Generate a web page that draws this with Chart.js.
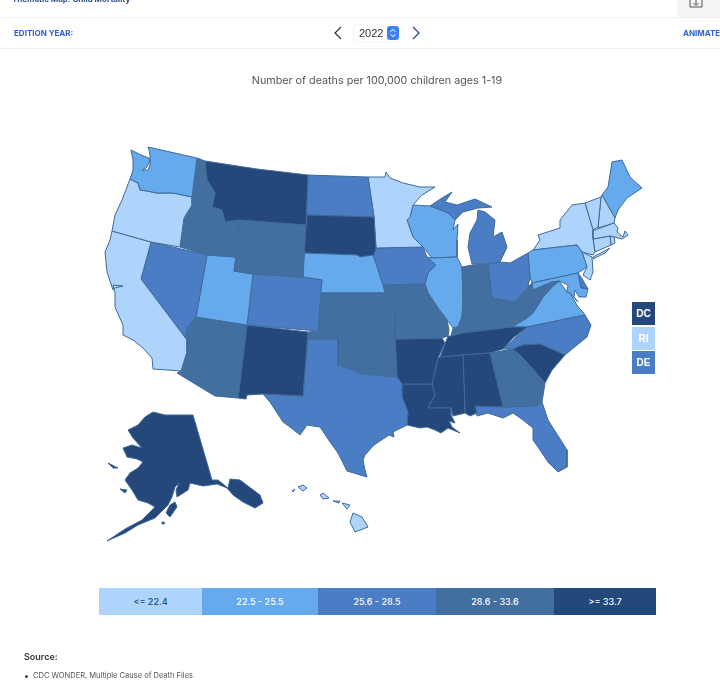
<!DOCTYPE html>
<html><head><meta charset="utf-8">
<style>
html,body{margin:0;padding:0;background:#fff;width:720px;height:682px;overflow:hidden;font-family:Inter,"Noto Sans",sans-serif;color:#444}
#wrap{position:absolute;left:0;top:0;width:720px;height:682px;overflow:hidden}
canvas{position:absolute;left:0;top:0}
.abs{position:absolute;white-space:nowrap}
.rule{position:absolute;left:0;width:720px;height:1px;background:#f0f0f0}
.blue{color:#2f62d1;font-weight:700;font-size:8px}
#legend{position:absolute;left:99px;top:588px;width:557px;height:27px;display:flex}
#legend div{height:27px;line-height:27px;text-align:center;font-size:9px;font-weight:500;color:#fff}
.sq{position:absolute;left:632px;width:23px;height:23px;text-align:center;font:700 10px/23px "Liberation Sans",Arial,sans-serif;color:#fff}
</style></head><body>
<div id="wrap">
<canvas id="map" width="720" height="682"></canvas>
<div class="abs" style="left:12px;top:-6px;font-size:8px;font-weight:700;color:#2b4f86">Thematic Map: Child Mortality</div>
<div class="abs" style="left:677px;top:0;width:43px;height:17px;background:#f5f5f5"></div>
<svg class="abs" style="left:689px;top:0" width="14" height="10"><path d="M1 0V7H13V0M7 0V5M4.5 3L7 5.5L9.5 3" fill="none" stroke="#555" stroke-width="1"/></svg>
<div class="rule" style="top:17px"></div><div class="rule" style="top:48px"></div>
<div class="abs blue" style="left:14px;top:28px">EDITION YEAR:</div>
<div class="abs blue" style="left:683px;top:28px">ANIMATE</div>
<svg class="abs" style="left:333px;top:26px" width="10" height="14"><path d="M8 1L2 7L8 13" fill="none" stroke="#333" stroke-width="1.2"/></svg>
<svg class="abs" style="left:411px;top:26px" width="10" height="14"><path d="M2 1L8 7L2 13" fill="none" stroke="#23468a" stroke-width="1.2"/></svg>
<div class="abs" style="left:354px;top:25px;width:49px;height:16px;border-radius:3px;box-shadow:0 0 2px #ddd"></div>
<div class="abs" style="left:359px;top:27px;font-size:11px;color:#333;font-family:'Liberation Sans',Arial,sans-serif">2022</div>
<div class="abs" style="left:387px;top:26px;width:12px;height:14px;border-radius:3px;background:#3b82ee"></div>
<svg class="abs" style="left:387px;top:26px" width="12" height="14"><path d="M3.5 5.5L6 3.5L8.5 5.5M3.5 8.5L6 10.5L8.5 8.5" fill="none" stroke="#fff" stroke-width="1"/></svg>
<div id="title" class="abs" style="left:227px;top:74px;width:300px;text-align:center;font-size:10.75px;font-weight:400;color:#555">Number of deaths per 100,000 children ages 1-19</div>
<div id="legend"></div>
<div id="squares"></div>
<div class="abs" style="left:24px;top:651px;font-size:9px;font-weight:600;color:#333">Source:</div>
<div class="abs" style="left:25px;top:675px;width:3px;height:3px;border-radius:2px;background:#444"></div>
<div class="abs" style="left:33px;top:671px;font-size:7.5px;color:#555">CDC WONDER, Multiple Cause of Death Files</div>
</div>
<script src="https://cdn.jsdelivr.net/npm/chart.js@4"></script>
<script>
// Class labels and the states read into each class
const binLabels=['<= 22.4','22.5 - 25.5','25.6 - 28.5','28.6 - 33.6','>= 33.7'];
const binColors=['#AED4FB','#65AAEC','#4A7DC3','#426F9F','#24487A'];
const bin0=['CA','OR','MN','NY','VT','NH','MA','CT','RI','NJ','HI'];
const bin1=['WA','UT','NE','WI','IL','PA','ME','VA','MD'];
const bin2=['NV','CO','ND','IA','MI','OH','TX','FL','NC','DE'];
const bin3=['ID','WY','AZ','KS','OK','MO','IN','KY','WV','GA'];
const bin4=['MT','SD','NM','AR','LA','MS','AL','TN','SC','AK','DC'];
const smallStates=['DC','RI','DE'];

// State outlines in map units
const WA=[[148,147],[197,158],[192,197],[173,193],[157,193],[147,191],[140,190],[138,183],[130,179],[133,170],[133,160],[131,150],[141,155],[149,158],[150,162],[146,168],[142,170],[148,170],[150,165],[150,155],[149,150]];
const OR=[[130,179],[138,183],[140,190],[147,191],[157,193],[173,193],[192,197],[192,205],[184,218],[180,247],[151,242],[112,231],[115,215],[122,200]];
const CA=[[112,231],[151,242],[141,279],[187,340],[187,352],[181,371],[153,369],[152,358],[143,348],[133,340],[123,335],[123,325],[115,307],[115,293],[113,285],[123,286],[115,288],[113,290],[107,272],[105,252],[110,240]];
const NV=[[151,242],[207,255],[196,317],[187,328],[185,340],[141,279]];
const ID=[[197,158],[205,161],[207,180],[215,193],[212,207],[222,210],[225,222],[240,220],[236,257],[207,255],[180,247],[184,218],[192,205],[192,197]];
const MT=[[205,161],[257,169],[308,175],[306,225],[240,220],[225,222],[222,210],[212,207],[215,193],[207,180]];
const WY=[[240,220],[306,225],[303,277],[253,274],[234,271],[236,257]];
const UT=[[207,255],[236,257],[234,271],[253,274],[247,325],[196,317]];
const CO=[[253,274],[303,277],[322,280],[318,331],[247,325]];
const AZ=[[196,317],[247,325],[238,398],[215,396],[177,373],[181,371],[187,352],[185,340],[187,328]];
const NM=[[247,325],[308,332],[303,396],[263,394],[247,395],[246,399],[238,398]];
const TX=[[308,339],[338,339],[338,365],[353,370],[360,374],[397,377],[402,384],[402,397],[408,412],[407,425],[393,432],[394,437],[389,435],[377,443],[373,446],[365,455],[363,460],[365,470],[367,477],[347,471],[338,453],[330,442],[320,427],[307,425],[300,435],[290,427],[283,422],[270,402],[263,394],[303,396]];
const OK=[[308,332],[318,331],[395,334],[395,339],[397,377],[360,374],[353,370],[338,365],[338,339],[308,339]];
const KS=[[320,293],[385,293],[395,313],[395,334],[318,331]];
const NE=[[303,253],[357,255],[360,257],[373,255],[383,285],[385,293],[320,293],[322,280],[303,277]];
const SD=[[307,215],[374,217],[376,248],[373,257],[360,257],[357,255],[303,253]];
const ND=[[308,175],[368,177],[374,217],[307,215]];
const MN=[[368,177],[385,177],[386,172],[390,178],[403,183],[420,187],[435,187],[422,195],[413,205],[410,217],[407,220],[413,237],[423,247],[376,248],[374,217]];
const IA=[[376,248],[423,247],[427,257],[436,265],[428,273],[425,284],[383,285],[373,257]];
const MO=[[383,285],[425,284],[428,293],[438,308],[447,320],[449,330],[448,336],[442,338],[395,339],[395,313],[385,293]];
const AR=[[395,339],[442,338],[445,343],[438,358],[432,384],[402,384],[397,377]];
const LA=[[402,384],[432,384],[435,395],[428,408],[451,408],[451,415],[455,423],[449,421],[452,427],[460,433],[448,428],[441,433],[435,430],[427,427],[420,428],[407,425],[408,412],[402,397]];
const MS=[[440,357],[463,355],[465,413],[453,416],[451,408],[428,408],[435,395],[432,384],[438,358]];
const AL=[[463,355],[490,353],[503,407],[475,406],[477,413],[470,416],[465,413]];
const GA=[[490,353],[513,349],[523,358],[545,383],[542,402],[536,406],[503,407]];
const FL=[[475,406],[503,407],[536,406],[542,402],[548,420],[567,450],[567,467],[558,472],[548,462],[540,450],[533,440],[533,428],[523,420],[513,413],[503,418],[488,413],[477,416]];
const SC=[[513,349],[523,345],[540,344],[565,355],[552,370],[545,383],[523,358]];
const NC=[[503,349],[527,327],[585,315],[591,325],[587,337],[577,345],[565,355],[540,344],[523,345],[513,349]];
const TN=[[440,357],[448,336],[451,336],[463,333],[512,327],[527,327],[513,338],[503,349],[490,353],[463,355]];
const KY=[[451,336],[453,328],[458,327],[462,317],[478,313],[490,302],[492,298],[503,300],[515,302],[518,313],[527,318],[512,327],[463,333]];
const IN=[[462,267],[472,265],[488,264],[492,298],[490,302],[478,313],[462,317],[463,300]];
const IL=[[432,258],[457,257],[462,267],[463,300],[462,317],[458,327],[453,328],[447,320],[438,308],[428,293],[425,284],[428,273],[436,265],[427,257]];
const WI=[[413,205],[430,206],[448,213],[455,220],[453,230],[458,224],[457,240],[457,257],[432,258],[423,247],[413,237],[407,220],[410,217]];
const MI_upper=[[430,206],[442,198],[452,192],[445,202],[457,205],[475,199],[492,207],[478,208],[463,212],[455,220],[448,213]];
const MI_lower=[[478,210],[477,220],[470,233],[468,247],[472,264],[488,264],[500,262],[507,247],[502,232],[493,237],[495,220],[485,212]];
const OH=[[488,264],[500,262],[510,263],[528,253],[530,277],[528,287],[523,293],[515,302],[503,300],[492,298]];
const WV=[[515,302],[523,293],[528,287],[532,283],[533,290],[545,285],[552,282],[559,281],[553,286],[543,297],[533,313],[527,318],[518,313]];
const VA=[[512,327],[527,318],[533,313],[543,297],[553,286],[559,281],[567,292],[570,293],[578,307],[583,312],[585,315],[527,327]];
const MD=[[532,283],[578,273],[581,288],[588,289],[586,297],[579,297],[575,290],[574,297],[578,302],[570,293],[567,292],[568,285],[559,281],[552,282],[545,285],[533,290]];
const DE=[[578,273],[581,277],[588,289],[581,288]];
const PA=[[528,253],[533,250],[577,245],[582,252],[587,267],[578,273],[532,283],[530,277]];
const NJ=[[582,252],[592,257],[593,272],[590,280],[583,275],[587,267]];
const NY=[[533,250],[540,240],[538,235],[560,228],[560,220],[572,205],[585,203],[593,230],[593,239],[595,252],[593,255],[582,252],[577,245]];
const NY_li=[[593,257],[610,248],[605,253],[593,259]];
const VT=[[585,203],[601,197],[598,227],[593,230]];
const NH=[[602,195],[615,218],[614,223],[598,228],[601,197]];
const ME=[[602,195],[608,187],[612,162],[622,160],[630,177],[642,188],[627,198],[618,210],[615,218]];
const MA=[[592,231],[614,223],[618,228],[617,232],[623,237],[625,231],[628,235],[622,239],[615,237],[610,236],[593,239]];
const CT=[[593,239],[610,236],[611,245],[595,252]];
const RI=[[610,236],[614,236],[615,243],[611,245]];
const AK=[[153,412],[165,415],[193,415],[212,480],[218,480],[228,488],[230,479],[240,480],[260,495],[263,503],[255,508],[243,502],[233,495],[227,488],[217,484],[203,486],[190,483],[188,490],[177,497],[176,490],[179,483],[175,487],[172,497],[168,505],[155,518],[138,525],[125,533],[107,541],[125,529],[142,520],[155,507],[148,503],[138,500],[132,490],[125,480],[130,473],[138,468],[143,462],[137,459],[127,457],[123,448],[132,445],[142,448],[133,438],[128,430],[138,425],[145,417]];
const AK_kodiak=[[175,502],[177,507],[170,517],[166,513],[170,505]];
const AK_stlawrence=[[108,463],[118,468],[113,468]];
const AK_nunivak=[[120,489],[127,490],[125,493]];
const AK_isle=[[162,522],[164,522],[164,524],[162,524]];
const HI_big=[[353,513],[362,517],[368,527],[355,532],[350,522]];
const HI_maui=[[342,503],[350,505],[347,509]];
const HI_molokai=[[333,501],[340,501],[339,503]];
const HI_oahu=[[320,495],[323,493],[329,498],[323,499]];
const HI_kauai=[[298,487],[303,485],[307,488],[303,491]];
const HI_niihau=[[292,491],[295,489],[293,492]];

const shapes={WA:[WA],OR:[OR],CA:[CA],NV:[NV],ID:[ID],MT:[MT],WY:[WY],UT:[UT],CO:[CO],AZ:[AZ],NM:[NM],TX:[TX],OK:[OK],KS:[KS],NE:[NE],SD:[SD],ND:[ND],MN:[MN],IA:[IA],MO:[MO],AR:[AR],LA:[LA],MS:[MS],AL:[AL],GA:[GA],FL:[FL],SC:[SC],NC:[NC],TN:[TN],KY:[KY],IN:[IN],IL:[IL],WI:[WI],MI:[MI_upper,MI_lower],OH:[OH],WV:[WV],VA:[VA],MD:[MD],DE:[DE],PA:[PA],NJ:[NJ],NY:[NY,NY_li],VT:[VT],NH:[NH],ME:[ME],MA:[MA],CT:[CT],RI:[RI],AK:[AK,AK_kodiak,AK_stlawrence,AK_nunivak,AK_isle],HI:[HI_big,HI_maui,HI_molokai,HI_oahu,HI_kauai,HI_niihau]};
const bins=[bin0,bin1,bin2,bin3,bin4];
const colorOf=s=>binColors[bins.findIndex(b=>b.includes(s))];
const datasets=[];
for(const s of Object.keys(shapes)){
  for(const part of shapes[s]){
    const pts=part.map(p=>({x:p[0],y:p[1]}));pts.push(pts[0]);
    datasets.push({label:s,data:pts,showLine:true,fill:'shape',backgroundColor:colorOf(s),borderColor:'#3F6A9A',borderWidth:1,borderJoinStyle:'round',pointRadius:0,pointHoverRadius:0,tension:0,clip:false});
  }
}
new Chart(document.getElementById('map'),{type:'scatter',data:{datasets},options:{responsive:false,animation:false,events:[],layout:{padding:0},
  plugins:{legend:{display:false},tooltip:{enabled:false},title:{display:false}},
  scales:{x:{type:'linear',display:false,min:0,max:720},y:{type:'linear',display:false,min:0,max:682,reverse:true}}}});

// Legend and small-state boxes (HTML text)
const legendWidths=[103,116,118,118,102];
const lg=document.getElementById('legend');
binLabels.forEach((t,i)=>{const d=document.createElement('div');d.textContent=t;d.style.width=legendWidths[i]+'px';d.style.background=binColors[i];if(i===0)d.style.color='#24487A';lg.appendChild(d);});
const sqTops=[302,327,351];
const sq=document.getElementById('squares');
smallStates.forEach((s,i)=>{const d=document.createElement('div');d.className='sq';d.textContent=s;d.style.top=sqTops[i]+'px';d.style.background=colorOf(s);sq.appendChild(d);});
</script>
</body></html>
